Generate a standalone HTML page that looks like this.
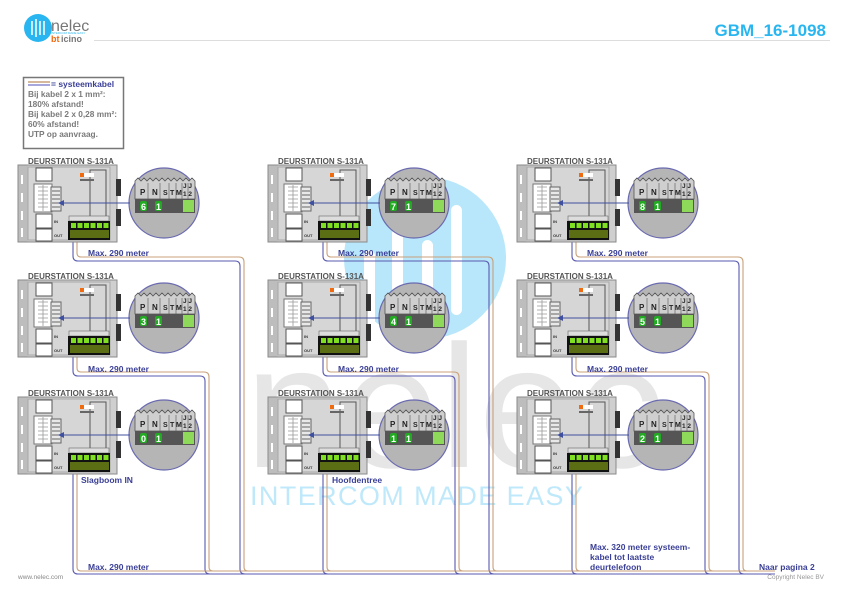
<!DOCTYPE html>
<html><head><meta charset="utf-8"><style>
html,body{margin:0;padding:0;background:#fff;}
svg{display:block;font-family:"Liberation Sans",sans-serif;}
.lb{font-size:8.5px;font-weight:bold;fill:#3a3f96;}
.st{font-size:8px;font-weight:bold;fill:#555;}
.lg{font-size:8.3px;font-weight:bold;fill:#7a7a7a;}
</style></head><body>
<svg width="841" height="595" viewBox="0 0 841 595">
<defs>
<g id="body">
 <rect x="0" y="0" width="99" height="77" fill="#cfcfcf" stroke="#8a8a8a"/>
 <rect x="0.5" y="0.5" width="9" height="76" fill="#bdbdbd"/>
 <rect x="3" y="10" width="2" height="9" fill="#fff"/><rect x="3" y="28" width="2" height="9" fill="#fff"/>
 <rect x="3" y="46" width="2" height="9" fill="#fff"/><rect x="3" y="63" width="2" height="9" fill="#fff"/>
 <rect x="10" y="2" width="82" height="73" fill="#d6d6d6" stroke="#a8a8a8"/>
 <rect x="18" y="3" width="16" height="13" fill="#fff" stroke="#555"/>
 <rect x="16" y="19" width="18" height="28" fill="#fff" stroke="#777"/>
 <path d="M20 22h10M20 26h10M20 30h10M20 34h10M20 38h10M20 42h10M25 20v26" stroke="#999" stroke-width="0.8"/>
 <rect x="33" y="22" width="10" height="24" fill="#e8e8e8" stroke="#666"/>
 <path d="M34 26h8M34 30h8M34 34h8M34 38h8M34 42h8" stroke="#666" stroke-width="1"/>
 <rect x="18" y="49" width="16" height="14" fill="#fff" stroke="#555"/>
 <rect x="18" y="64" width="16" height="12" fill="#fff" stroke="#555"/>
 <rect x="72" y="5" width="16" height="52" fill="none" stroke="#555"/>
 <rect x="51" y="51" width="40" height="5" fill="#ddd" stroke="#666" stroke-width="0.6"/>
 <rect x="50" y="56" width="42" height="19" fill="#111"/>
 <rect x="53" y="58" width="5" height="5" fill="#7ee020"/><rect x="59.5" y="58" width="5" height="5" fill="#7ee020"/>
 <rect x="66" y="58" width="5" height="5" fill="#7ee020"/><rect x="72.5" y="58" width="5" height="5" fill="#7ee020"/>
 <rect x="79" y="58" width="5" height="5" fill="#7ee020"/><rect x="85.5" y="58" width="5" height="5" fill="#7ee020"/>
 <rect x="52" y="65" width="39" height="8" fill="#5c6e14"/>
 <rect x="62" y="8" width="4" height="4" fill="#f06a10"/><rect x="66" y="8" width="10" height="4" fill="#fff"/>
 <rect x="62" y="14" width="14" height="2" fill="#666"/>
 <rect x="98" y="14" width="5" height="17" fill="#333"/><rect x="98" y="44" width="5" height="17" fill="#333"/>
 <circle cx="146" cy="38" r="35" fill="#b5b5b5" stroke="#6a6ab0" stroke-width="1.2"/>
 <path d="M117 34V16l3-3 3 3l3-3 3 3l3-3 3 3l3-3 3 3l3-3 3 3l3-3 3 3l3-3 3 3l3-3 3 3l3-3 3 3l3-3 3 3V34Z" fill="#cfcfcf" stroke="#555" stroke-width="0.8"/>
 <path d="M130 18v16M142 18v16M151 18v16M158 18v16M164 18v16M170 18v16" stroke="#555" stroke-width="0.6"/>
 <rect x="117" y="34" width="60" height="14" fill="#555"/>
 <rect x="122" y="36" width="7" height="10" rx="2" fill="#22aa22"/><rect x="137" y="36" width="7" height="10" rx="2" fill="#22aa22"/>
 <rect x="165" y="35" width="11" height="12" fill="#8ed85a"/>
 <path d="M43 38H112" stroke="#4050a0" stroke-width="1"/><path d="M40 38l6-3v6z" fill="#4050a0"/>
</g>
</defs>

<!-- watermark -->
<circle cx="425" cy="258" r="81" fill="#b8e6fa"/>
<rect x="364" y="250" width="11" height="80" rx="5.5" fill="#fff"/>
<rect x="392" y="228" width="11" height="110" rx="5.5" fill="#fff"/>
<rect x="422" y="240" width="11" height="100" rx="5.5" fill="#fff"/>
<rect x="451" y="205" width="11" height="110" rx="5.5" fill="#fff"/>
<text x="245" y="467" font-size="175" fill="#e6e6e6">nelec</text>
<text x="250" y="505" font-size="27" fill="#bfe9fb" letter-spacing="1.4">INTERCOM MADE EASY</text>

<!-- header -->
<circle cx="38" cy="28" r="14" fill="#29b6f0"/>
<path d="M32 21v14M36 19v18M40 21v14M44 21v14" stroke="#fff" stroke-width="1.5"/>
<text x="51" y="31" font-size="16" fill="#777">nelec</text>
<text x="51" y="34" font-size="3" fill="#29b6f0">INTERCOM MADE EASY</text>
<text x="51" y="42" font-size="9" font-weight="bold" fill="#f06a10">bt</text><text x="61" y="42" font-size="9" font-weight="bold" fill="#777">icino</text>
<line x1="94" y1="40.5" x2="830" y2="40.5" stroke="#ddd"/>
<text x="826" y="36" font-size="17" font-weight="bold" fill="#29b6f0" text-anchor="end">GBM_16-1098</text>

<!-- legend -->
<rect x="23.5" y="77.5" width="100" height="71" fill="#fff" stroke="#777" stroke-width="1.5"/>
<line x1="28" y1="82" x2="50" y2="82" stroke="#c8a07a" stroke-width="1.5"/>
<line x1="28" y1="85" x2="50" y2="85" stroke="#8a8ad0" stroke-width="1.5"/>
<text x="51" y="87" class="lb" style="font-size:8.5px">= systeemkabel</text>
<text x="28" y="97" class="lg">Bij kabel 2 x 1 mm²:</text>
<text x="28" y="107" class="lg">180% afstand!</text>
<text x="28" y="117" class="lg">Bij kabel 2 x 0,28 mm²:</text>
<text x="28" y="127" class="lg">60% afstand!</text>
<text x="28" y="137" class="lg">UTP op aanvraag.</text>

<!-- wiring -->
<g fill="none" stroke-width="1.1">
<g stroke="#5a5ab0">
<path d="M73 242V256Q73 261 78 261H235Q240 261 240 266V569Q240 574 245 574"/>
<path d="M323 242V256Q323 261 328 261H484Q489 261 489 266V569Q489 574 494 574"/>
<path d="M572 242V256Q572 261 577 261H734Q739 261 739 266V569Q739 574 744 574"/>
<path d="M73 357V371Q73 376 78 376H200Q205 376 205 381V569Q205 574 210 574"/>
<path d="M323 357V371Q323 376 328 376H450Q455 376 455 381V569Q455 574 460 574"/>
<path d="M572 357V371Q572 376 577 376H700Q705 376 705 381V569Q705 574 710 574"/>
<path d="M73 474V569Q73 574 78 574H775"/>
<path d="M323 474V569Q323 574 328 574"/>
<path d="M572 474V569Q572 574 577 574"/>
</g>
<g stroke="#c8a07a">
<path d="M77 242V253Q77 257 81 257H239Q244 257 244 262V567Q244 571 248 571"/>
<path d="M327 242V253Q327 257 331 257H488Q493 257 493 262V567Q493 571 497 571"/>
<path d="M576 242V253Q576 257 580 257H738Q743 257 743 262V567Q743 571 747 571"/>
<path d="M77 357V368Q77 372 81 372H204Q209 372 209 377V567Q209 571 213 571"/>
<path d="M327 357V368Q327 372 331 372H454Q459 372 459 377V567Q459 571 463 571"/>
<path d="M576 357V368Q576 372 580 372H704Q709 372 709 377V567Q709 571 713 571"/>
<path d="M77 474V567Q77 571 81 571H775"/>
<path d="M327 474V567Q327 571 331 571"/>
<path d="M576 474V567Q576 571 580 571"/>
</g>
</g>

<!-- stations -->
<use href="#body" x="18" y="165"/><use href="#body" x="268" y="165"/><use href="#body" x="517" y="165"/>
<use href="#body" x="18" y="280"/><use href="#body" x="268" y="280"/><use href="#body" x="517" y="280"/>
<use href="#body" x="18" y="397"/><use href="#body" x="268" y="397"/><use href="#body" x="517" y="397"/>

<g font-size="8" font-weight="bold">
<g transform="translate(18,165)"><text x="10" y="-1" class="st">DEURSTATION S-131A</text><text x="36" y="58" font-size="4" fill="#333">IN</text><text x="36" y="72" font-size="4" fill="#333">OUT</text><text x="122" y="30" font-size="8" fill="#222">P</text><text x="134" y="30" font-size="8" fill="#222">N</text><text x="145" y="30" font-size="7" fill="#222">S</text><text x="152" y="30" font-size="7" fill="#222">T</text><text x="158" y="30" font-size="7" fill="#222">M</text><text x="165" y="23" font-size="6.5" fill="#222">J J</text><text x="165" y="31" font-size="6.5" fill="#222">1 2</text><text x="123" y="45" font-size="9" fill="#fff">6</text><text x="138" y="45" font-size="9" fill="#fff">1</text></g>
<g transform="translate(268,165)"><text x="10" y="-1" class="st">DEURSTATION S-131A</text><text x="36" y="58" font-size="4" fill="#333">IN</text><text x="36" y="72" font-size="4" fill="#333">OUT</text><text x="122" y="30" font-size="8" fill="#222">P</text><text x="134" y="30" font-size="8" fill="#222">N</text><text x="145" y="30" font-size="7" fill="#222">S</text><text x="152" y="30" font-size="7" fill="#222">T</text><text x="158" y="30" font-size="7" fill="#222">M</text><text x="165" y="23" font-size="6.5" fill="#222">J J</text><text x="165" y="31" font-size="6.5" fill="#222">1 2</text><text x="123" y="45" font-size="9" fill="#fff">7</text><text x="138" y="45" font-size="9" fill="#fff">1</text></g>
<g transform="translate(517,165)"><text x="10" y="-1" class="st">DEURSTATION S-131A</text><text x="36" y="58" font-size="4" fill="#333">IN</text><text x="36" y="72" font-size="4" fill="#333">OUT</text><text x="122" y="30" font-size="8" fill="#222">P</text><text x="134" y="30" font-size="8" fill="#222">N</text><text x="145" y="30" font-size="7" fill="#222">S</text><text x="152" y="30" font-size="7" fill="#222">T</text><text x="158" y="30" font-size="7" fill="#222">M</text><text x="165" y="23" font-size="6.5" fill="#222">J J</text><text x="165" y="31" font-size="6.5" fill="#222">1 2</text><text x="123" y="45" font-size="9" fill="#fff">8</text><text x="138" y="45" font-size="9" fill="#fff">1</text></g>
<g transform="translate(18,280)"><text x="10" y="-1" class="st">DEURSTATION S-131A</text><text x="36" y="58" font-size="4" fill="#333">IN</text><text x="36" y="72" font-size="4" fill="#333">OUT</text><text x="122" y="30" font-size="8" fill="#222">P</text><text x="134" y="30" font-size="8" fill="#222">N</text><text x="145" y="30" font-size="7" fill="#222">S</text><text x="152" y="30" font-size="7" fill="#222">T</text><text x="158" y="30" font-size="7" fill="#222">M</text><text x="165" y="23" font-size="6.5" fill="#222">J J</text><text x="165" y="31" font-size="6.5" fill="#222">1 2</text><text x="123" y="45" font-size="9" fill="#fff">3</text><text x="138" y="45" font-size="9" fill="#fff">1</text></g>
<g transform="translate(268,280)"><text x="10" y="-1" class="st">DEURSTATION S-131A</text><text x="36" y="58" font-size="4" fill="#333">IN</text><text x="36" y="72" font-size="4" fill="#333">OUT</text><text x="122" y="30" font-size="8" fill="#222">P</text><text x="134" y="30" font-size="8" fill="#222">N</text><text x="145" y="30" font-size="7" fill="#222">S</text><text x="152" y="30" font-size="7" fill="#222">T</text><text x="158" y="30" font-size="7" fill="#222">M</text><text x="165" y="23" font-size="6.5" fill="#222">J J</text><text x="165" y="31" font-size="6.5" fill="#222">1 2</text><text x="123" y="45" font-size="9" fill="#fff">4</text><text x="138" y="45" font-size="9" fill="#fff">1</text></g>
<g transform="translate(517,280)"><text x="10" y="-1" class="st">DEURSTATION S-131A</text><text x="36" y="58" font-size="4" fill="#333">IN</text><text x="36" y="72" font-size="4" fill="#333">OUT</text><text x="122" y="30" font-size="8" fill="#222">P</text><text x="134" y="30" font-size="8" fill="#222">N</text><text x="145" y="30" font-size="7" fill="#222">S</text><text x="152" y="30" font-size="7" fill="#222">T</text><text x="158" y="30" font-size="7" fill="#222">M</text><text x="165" y="23" font-size="6.5" fill="#222">J J</text><text x="165" y="31" font-size="6.5" fill="#222">1 2</text><text x="123" y="45" font-size="9" fill="#fff">5</text><text x="138" y="45" font-size="9" fill="#fff">1</text></g>
<g transform="translate(18,397)"><text x="10" y="-1" class="st">DEURSTATION S-131A</text><text x="36" y="58" font-size="4" fill="#333">IN</text><text x="36" y="72" font-size="4" fill="#333">OUT</text><text x="122" y="30" font-size="8" fill="#222">P</text><text x="134" y="30" font-size="8" fill="#222">N</text><text x="145" y="30" font-size="7" fill="#222">S</text><text x="152" y="30" font-size="7" fill="#222">T</text><text x="158" y="30" font-size="7" fill="#222">M</text><text x="165" y="23" font-size="6.5" fill="#222">J J</text><text x="165" y="31" font-size="6.5" fill="#222">1 2</text><text x="123" y="45" font-size="9" fill="#fff">0</text><text x="138" y="45" font-size="9" fill="#fff">1</text></g>
<g transform="translate(268,397)"><text x="10" y="-1" class="st">DEURSTATION S-131A</text><text x="36" y="58" font-size="4" fill="#333">IN</text><text x="36" y="72" font-size="4" fill="#333">OUT</text><text x="122" y="30" font-size="8" fill="#222">P</text><text x="134" y="30" font-size="8" fill="#222">N</text><text x="145" y="30" font-size="7" fill="#222">S</text><text x="152" y="30" font-size="7" fill="#222">T</text><text x="158" y="30" font-size="7" fill="#222">M</text><text x="165" y="23" font-size="6.5" fill="#222">J J</text><text x="165" y="31" font-size="6.5" fill="#222">1 2</text><text x="123" y="45" font-size="9" fill="#fff">1</text><text x="138" y="45" font-size="9" fill="#fff">1</text></g>
<g transform="translate(517,397)"><text x="10" y="-1" class="st">DEURSTATION S-131A</text><text x="36" y="58" font-size="4" fill="#333">IN</text><text x="36" y="72" font-size="4" fill="#333">OUT</text><text x="122" y="30" font-size="8" fill="#222">P</text><text x="134" y="30" font-size="8" fill="#222">N</text><text x="145" y="30" font-size="7" fill="#222">S</text><text x="152" y="30" font-size="7" fill="#222">T</text><text x="158" y="30" font-size="7" fill="#222">M</text><text x="165" y="23" font-size="6.5" fill="#222">J J</text><text x="165" y="31" font-size="6.5" fill="#222">1 2</text><text x="123" y="45" font-size="9" fill="#fff">2</text><text x="138" y="45" font-size="9" fill="#fff">1</text></g>
</g>

<!-- labels -->
<text x="88" y="256" class="lb">Max. 290 meter</text>
<text x="338" y="256" class="lb">Max. 290 meter</text>
<text x="587" y="256" class="lb">Max. 290 meter</text>
<text x="88" y="372" class="lb">Max. 290 meter</text>
<text x="338" y="372" class="lb">Max. 290 meter</text>
<text x="587" y="372" class="lb">Max. 290 meter</text>
<text x="81" y="483" class="lb">Slagboom IN</text>
<text x="332" y="483" class="lb">Hoofdentree</text>
<text x="88" y="570" class="lb">Max. 290 meter</text>
<text x="590" y="550" class="lb">Max. 320 meter systeem-</text>
<text x="590" y="560" class="lb">kabel tot laatste</text>
<text x="590" y="570" class="lb">deurtelefoon</text>
<text x="759" y="570" class="lb">Naar pagina 2</text>
<text x="18" y="579" font-size="6.5" fill="#888">www.nelec.com</text>
<text x="824" y="579" font-size="6.5" fill="#999" text-anchor="end">Copyright Nelec BV</text>
</svg>
</body></html>
